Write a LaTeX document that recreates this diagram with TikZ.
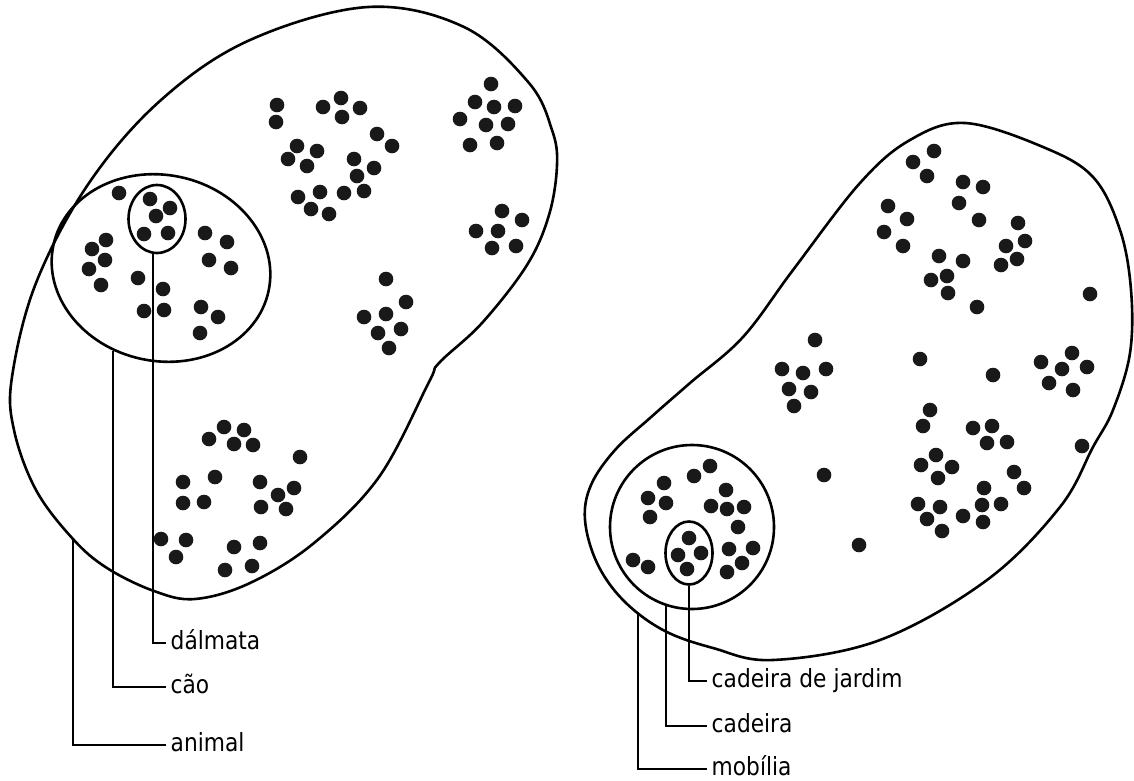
\documentclass[tikz,border=0pt]{standalone}
\usepackage{fontspec}
\newfontfamily\lblfont{DejaVu Sans}[FakeStretch=0.87]
\usetikzlibrary{shapes.geometric}

\begin{document}
\begin{tikzpicture}[
    x=1pt, y=-1pt,
    outline/.style={draw, line width=2.6pt},
    set/.style={draw, ellipse, line width=2.6pt, inner sep=0pt},
    lead/.style={line width=1.9pt},
    lbl/.style={anchor=west, inner xsep=4.5pt, inner ysep=0pt, text height=13pt, text depth=0pt, font=\lblfont\fontsize{25}{30}\selectfont}
  ]
    \useasboundingbox (0,0) rectangle (1134,780);
    % animal
    \draw[outline] plot[smooth cycle, tension=0.6] coordinates {
      (368,7) (464,27) (529,83) (552,130) (557,165) (549,215) (527,265) (482,323) (439,363) (429,382)
      (379,477) (314,543) (250,583) (195,599) (154,591) (107,568) (73,539) (36,490) (14,430)
      (12,377) (36,283) (89,183) (161,100) (250,40)};
    \node[set, minimum width=220pt, minimum height=186pt, rotate=-12] (cao) at (161,268) {};
    \node[set, minimum width=57pt, minimum height=68pt] (dalm) at (157,219) {};
    \foreach \p in {(277,105),(276,122),(323,107),(341,98),(360,108),(342,117),(377,134),(392,146),
        (297,146),(317,151),(288,159),(307,166),(354,159),(374,168),(357,176),(298,197),(320,192),
        (311,209),(329,214),(344,193),(364,191),
        (491,84),(475,102),(494,107),(515,106),(460,119),(486,125),(508,124),(470,145),(497,143),
        (502,211),(522,220),(476,231),(498,231),(492,248),(516,246),
        (386,279),(406,302),(364,317),(386,314),(378,333),(401,329),(389,348),
        (119,193),(106,240),(92,249),(105,260),(89,269),(101,285),(138,278),(163,289),(144,311),
        (164,310),(205,233),(227,242),(209,260),(231,268),(201,307),(218,317),(200,333),
        (150,199),(170,208),(156,216),(144,234),(168,233),
        (209,439),(224,427),(244,430),(234,444),(253,445),(300,457),(183,482),(215,477),(183,503),
        (204,502),(260,482),(294,488),(278,495),(261,507),(286,509),(161,539),(186,540),(176,557),
        (234,547),(260,543),(225,570),(252,566)}
      \fill[black!90] \p circle[radius=7.3];
    \coordinate (ani) at (73,539);
    \node[lbl] (ldalm) at (166,643) {dálmata};
    \node[lbl] (lcao) at (166,687) {cão};
    \node[lbl] (lani) at (166,745) {animal};
    \draw[lead] (dalm.263) |- (ldalm.west);
    \draw[lead] (cao.252) |- (lcao.west);
    \draw[lead] (ani) |- (lani.west);
    % mobilia
    \draw[outline] plot[smooth cycle, tension=0.6] coordinates {
      (965,123) (1043,147) (1093,177) (1120,230) (1131,290) (1130,353) (1113,410) (1093,447)
      (1060,507) (987,580) (880,640) (773,660) (713,648) (663,630) (623,600) (597,563)
      (585,520) (591,485) (615,450) (650,418) (690,383) (743,337) (793,270) (860,183) (910,140)};
    \node[set, circle, minimum size=164pt] (cad) at (692,527) {};
    \node[set, minimum width=47pt, minimum height=63pt] (jard) at (689,553) {};
    \foreach \p in {(934,151),(913,162),(927,176),(963,182),(983,187),(959,203),(979,220),(888,206),
        (907,219),(884,232),(903,246),(1018,223),(1025,241),(1006,246),(1017,259),(1001,265),
        (939,256),(963,261),(931,280),(947,276),(948,293),(977,307),(1090,294),
        (815,340),(782,369),(803,373),(826,369),(789,389),(811,392),(794,406),(920,359),(993,375),
        (1072,353),(1041,362),(1062,369),(1087,367),(1049,383),(1073,390),
        (930,410),(923,426),(973,428),(992,426),(987,443),(1007,442),(1082,446),(936,455),(921,465),
        (952,467),(938,478),(1014,472),(1024,488),(984,488),(982,505),(1001,504),(918,504),
        (940,507),(927,519),(963,516),(983,522),(942,531),(824,475),(859,545),
        (710,466),(694,476),(664,483),(648,498),(666,503),(650,517),(726,490),(711,506),(727,509),
        (744,507),(738,527),(729,549),(753,548),(742,563),(727,572),(633,560),(648,567),
        (689,538),(678,555),(701,553),(687,569)}
      \fill[black!90] \p circle[radius=7.3];
    \coordinate (mob) at (638,612);
    \node[lbl] (ljard) at (707,681) {cadeira de jardim};
    \node[lbl] (lcad) at (707,726) {cadeira};
    \node[lbl] (lmob) at (707,769) {mobília};
    \draw[lead] (jard.south) |- (ljard.west);
    \draw[lead] (cad.252) |- (lcad.west);
    \draw[lead] (mob) |- (lmob.west);
\end{tikzpicture}
\end{document}
